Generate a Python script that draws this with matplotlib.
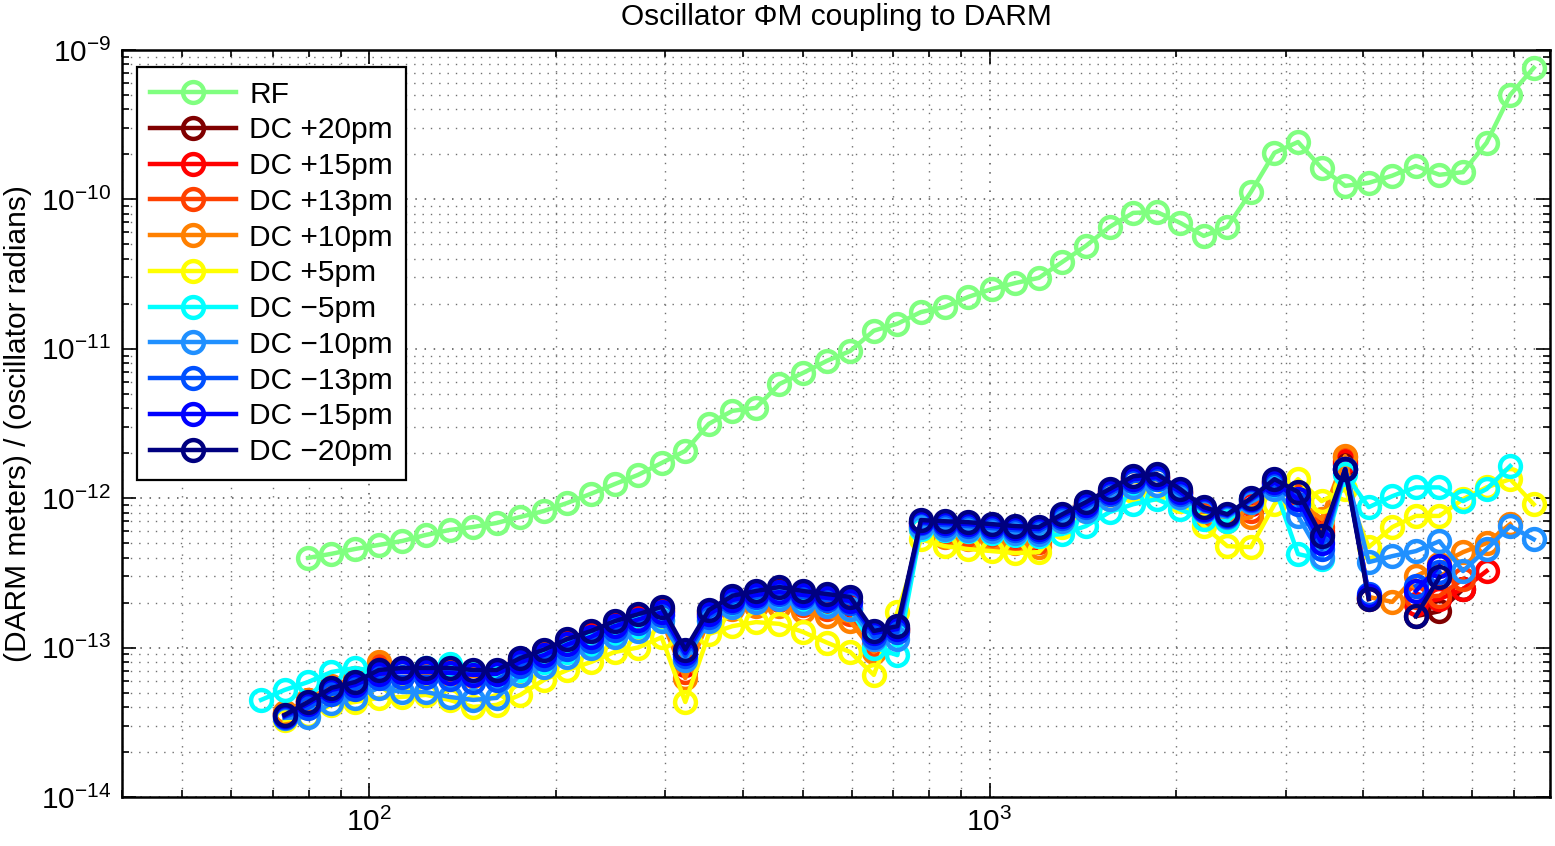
"""
Oscillator phase-modulation coupling to DARM, RF readout vs. DC readout
at several DARM offsets. Saves out.png.
"""

import numpy as np
import matplotlib
matplotlib.use("Agg")
import matplotlib.pyplot as plt
import matplotlib.ticker as ticker

plt.rcParams["font.family"] = ["Liberation Sans", "DejaVu Sans"]
plt.rcParams["mathtext.fontset"] = "custom"
plt.rcParams["mathtext.rm"] = "Liberation Sans"
plt.rcParams["mathtext.it"] = "Liberation Sans:italic"
plt.rcParams["mathtext.bf"] = "Liberation Sans:bold"

nan = np.nan

# ---------------------------------------------------------------------------
# Data  (frequency in Hz, coupling in DARM meters per oscillator radian)
# ---------------------------------------------------------------------------

freq = [67.0, 73.1, 79.8, 87.0, 95.0, 103.7, 113.2, 123.5, 134.8, 147.2,
        160.6, 175.3, 191.3, 208.8, 227.9, 248.7, 271.3, 296.2, 323.3, 352.8,
        385.1, 420.3, 458.6, 500.6, 546.4, 596.3, 650.8, 710.3, 775.1, 846.0,
        923.3, 1007.6, 1099.8, 1200.3, 1310.0, 1429.7, 1560.4, 1703.0, 1858.6, 2028.5,
        2213.7, 2416.1, 2636.9, 2877.8, 3140.8, 3427.9, 3741.1, 4083.0, 4456.0, 4863.0,
        5308.0, 5793.0, 6322.0, 6900.0, 7531.0]

rf = [nan, nan, 3.98e-13, 4.24e-13, 4.57e-13, 4.86e-13, 5.17e-13, 5.67e-13, 6.12e-13, 6.41e-13,
      6.82e-13, 7.48e-13, 8.2e-13, 9.29e-13, 1.07e-12, 1.24e-12, 1.43e-12, 1.72e-12, 2.07e-12, 3.14e-12,
      3.84e-12, 4.02e-12, 5.81e-12, 6.89e-12, 8.28e-12, 9.66e-12, 1.32e-11, 1.47e-11, 1.76e-11, 1.90e-11,
      2.22e-11, 2.51e-11, 2.75e-11, 2.98e-11, 3.81e-11, 4.88e-11, 6.53e-11, 8.11e-11, 8.24e-11, 6.95e-11,
      5.69e-11, 6.53e-11, 1.12e-10, 2.05e-10, 2.42e-10, 1.62e-10, 1.23e-10, 1.29e-10, 1.44e-10, 1.67e-10,
      1.46e-10, 1.52e-10, 2.39e-10, 5.0e-10, 7.59e-10]

dc_p20 = [nan, 3.54e-14, 4.32e-14, 5.29e-14, 5.8e-14, 7.07e-14, 7.18e-14, 7.18e-14, 7.18e-14, 6.97e-14,
          6.97e-14, 8.37e-14, 9.48e-14, 1.11e-13, 1.26e-13, 1.46e-13, 1.62e-13, 1.81e-13, 8.28e-14, 1.75e-13,
          2.15e-13, 2.28e-13, 2.39e-13, 2.25e-13, 2.11e-13, 2.02e-13, 1.22e-13, 1.36e-13, 6.9e-13, 6.6e-13,
          6.4e-13, 6.2e-13, 5.9e-13, 5.65e-13, 7.6e-13, 9.26e-13, 1.11e-12, 1.38e-12, 1.4e-12, 1.11e-12,
          8.4e-13, 7.6e-13, 9.55e-13, 1.3e-12, 1.08e-12, 5.75e-13, 1.69e-12, 2.11e-13, nan, 1.62e-13,
          1.75e-13, 2.46e-13, nan, nan, nan]

dc_p15 = [nan, 3.6e-14, 4.39e-14, 5.37e-14, 5.97e-14, 7.3e-14, 7.18e-14, 7.07e-14, 7.07e-14, 6.86e-14,
          6.86e-14, 8.28e-14, 9.33e-14, 1.08e-13, 1.22e-13, 1.41e-13, 1.57e-13, 1.75e-13, 7.66e-14, 1.7e-13,
          2.05e-13, 2.18e-13, 2.25e-13, 2.11e-13, 1.99e-13, 1.87e-13, 1.14e-13, 1.33e-13, 6.7e-13, 6.2e-13,
          6.0e-13, 5.9e-13, 5.57e-13, 5.3e-13, 7.46e-13, 9.1e-13, 1.1e-12, 1.36e-12, 1.38e-12, 1.1e-12,
          8.2e-13, 7.46e-13, 9.1e-13, 1.28e-12, 1.06e-12, 6.0e-13, 1.77e-12, 2.15e-13, nan, 1.96e-13,
          2.11e-13, 2.46e-13, 3.25e-13, nan, nan]

dc_p13 = [nan, 3.65e-14, 4.46e-14, 5.45e-14, 6.07e-14, 7.66e-14, 7.07e-14, 6.97e-14, 6.86e-14, 6.66e-14,
          6.66e-14, 8.0e-14, 9.06e-14, 1.05e-13, 1.18e-13, 1.36e-13, 1.5e-13, 1.65e-13, 6.86e-14, 1.62e-13,
          1.96e-13, 2.05e-13, 2.08e-13, 1.93e-13, 1.81e-13, 1.67e-13, 1.05e-13, 1.29e-13, 6.5e-13, 5.83e-13,
          5.65e-13, 5.57e-13, 5.24e-13, 5.07e-13, 7.24e-13, 8.98e-13, 1.08e-12, 1.34e-12, 1.36e-12, 1.08e-12,
          7.8e-13, 7.24e-13, 8.2e-13, 1.24e-12, 1.03e-12, 6.4e-13, 1.88e-12, 2.18e-13, nan, 2.18e-13,
          2.22e-13, 2.87e-13, nan, nan, nan]

dc_p10 = [nan, 3.7e-14, 4.46e-14, 5.53e-14, 6.25e-14, 8.0e-14, 6.86e-14, 6.76e-14, 6.66e-14, 6.45e-14,
          6.45e-14, 7.77e-14, 8.78e-14, 1.01e-13, 1.14e-13, 1.31e-13, 1.42e-13, 1.54e-13, 6.25e-14, 1.54e-13,
          1.81e-13, 1.89e-13, 1.89e-13, 1.75e-13, 1.62e-13, 1.5e-13, 9.33e-14, 1.29e-13, 6.2e-13, 5.5e-13,
          5.3e-13, 5.3e-13, 5.0e-13, 4.7e-13, 7.0e-13, 8.7e-13, 1.06e-12, 1.3e-12, 1.34e-12, 1.06e-12,
          7.46e-13, 7.0e-13, 7.46e-13, 1.18e-12, 9.85e-13, 7.24e-13, 1.91e-12, 2.18e-13, 2.02e-13, 3.0e-13,
          3.6e-13, 4.35e-13, 5.0e-13, 6.7e-13, nan]

dc_p5 = [nan, 3.27e-14, 3.48e-14, 4.13e-14, 4.32e-14, 4.6e-14, 4.67e-14, 4.82e-14, 4.46e-14, 4.0e-14,
         4.13e-14, 4.82e-14, 6.07e-14, 7.07e-14, 8.0e-14, 9.33e-14, 1.0e-13, 1.17e-13, 4.32e-14, 1.23e-13,
         1.39e-13, 1.48e-13, 1.44e-13, 1.27e-13, 1.08e-13, 9.33e-14, 6.56e-14, 1.72e-13, 5.3e-13, 4.77e-13,
         4.56e-13, 4.42e-13, 4.29e-13, 4.35e-13, 6.4e-13, 8.2e-13, 9.85e-13, 1.11e-12, 1.15e-12, 9.55e-13,
         6.5e-13, 4.77e-13, 4.7e-13, 9.1e-13, 1.34e-12, 9.55e-13, 1.15e-12, 4.7e-13, 6.4e-13, 7.6e-13,
         7.6e-13, 9.85e-13, 1.18e-12, 1.34e-12, 9.1e-13]

dc_m5 = [4.46e-14, 5.2e-14, 5.88e-14, 6.86e-14, 7.3e-14, 6.86e-14, 6.86e-14, 7.3e-14, 7.77e-14, 6.86e-14,
         6.25e-14, 7.07e-14, 8.0e-14, 9.33e-14, 1.06e-13, 1.25e-13, 1.39e-13, 1.54e-13, 8.5e-14, 1.54e-13,
         1.93e-13, 2.07e-13, 2.18e-13, 2.05e-13, 1.93e-13, 1.81e-13, 1.0e-13, 8.9e-14, 6.2e-13, 6.1e-13,
         6.0e-13, 5.83e-13, 5.65e-13, 5.57e-13, 5.75e-13, 6.5e-13, 8.06e-13, 9.1e-13, 9.85e-13, 8.4e-13,
         7.24e-13, 7.0e-13, 9.85e-13, 1.2e-12, 4.22e-13, 3.9e-13, 1.45e-12, 8.7e-13, 1.03e-12, 1.18e-12,
         1.18e-12, 9.55e-13, 1.15e-12, 1.64e-12, nan]

dc_m10 = [nan, 3.38e-14, 3.43e-14, 4.26e-14, 4.6e-14, 5.37e-14, 5.04e-14, 5.04e-14, 4.67e-14, 4.46e-14,
          4.6e-14, 6.56e-14, 7.41e-14, 8.64e-14, 1.0e-13, 1.17e-13, 1.29e-13, 1.5e-13, 8.28e-14, 1.5e-13,
          1.87e-13, 2.02e-13, 2.11e-13, 2.0e-13, 1.89e-13, 1.81e-13, 1.14e-13, 1.14e-13, 6.4e-13, 6.2e-13,
          6.1e-13, 6.0e-13, 5.83e-13, 5.75e-13, 7.0e-13, 8.2e-13, 9.85e-13, 1.18e-12, 1.22e-12, 1.02e-12,
          8.2e-13, 7.46e-13, 9.4e-13, 1.15e-12, 7.6e-13, 4.03e-13, 1.56e-12, 3.73e-13, 4.09e-13, 4.42e-13,
          5.15e-13, 3.25e-13, 4.56e-13, 6.5e-13, 5.3e-13]

dc_m13 = [nan, 3.43e-14, 3.94e-14, 4.89e-14, 5.29e-14, 6.25e-14, 6.35e-14, 6.35e-14, 6.16e-14, 5.88e-14,
          6.07e-14, 7.53e-14, 8.37e-14, 9.85e-14, 1.11e-13, 1.31e-13, 1.46e-13, 1.65e-13, 8.78e-14, 1.6e-13,
          2.02e-13, 2.18e-13, 2.28e-13, 2.18e-13, 2.08e-13, 1.99e-13, 1.18e-13, 1.27e-13, 6.8e-13, 6.6e-13,
          6.5e-13, 6.3e-13, 6.1e-13, 6.0e-13, 7.35e-13, 8.7e-13, 1.06e-12, 1.3e-12, 1.34e-12, 1.06e-12,
          8.3e-13, 7.6e-13, 9.7e-13, 1.24e-12, 9.1e-13, 4.56e-13, 1.56e-12, 2.28e-13, nan, 2.58e-13,
          3.2e-13, nan, nan, nan, nan]

dc_m15 = [nan, 3.48e-14, 4.19e-14, 5.2e-14, 5.62e-14, 6.66e-14, 6.86e-14, 6.86e-14, 6.76e-14, 6.56e-14,
          6.66e-14, 8.0e-14, 8.9e-14, 1.05e-13, 1.18e-13, 1.39e-13, 1.54e-13, 1.72e-13, 9.17e-14, 1.67e-13,
          2.08e-13, 2.25e-13, 2.35e-13, 2.25e-13, 2.15e-13, 2.05e-13, 1.25e-13, 1.33e-13, 6.9e-13, 6.8e-13,
          6.7e-13, 6.5e-13, 6.3e-13, 6.2e-13, 7.6e-13, 8.98e-13, 1.1e-12, 1.34e-12, 1.38e-12, 1.1e-12,
          8.4e-13, 7.7e-13, 9.85e-13, 1.28e-12, 9.85e-13, 5.0e-13, 1.56e-12, 2.22e-13, nan, 2.39e-13,
          3.51e-13, nan, nan, nan, nan]

dc_m20 = [nan, 3.54e-14, 4.32e-14, 5.37e-14, 5.88e-14, 7.07e-14, 7.3e-14, 7.3e-14, 7.3e-14, 7.07e-14,
          7.07e-14, 8.5e-14, 9.67e-14, 1.14e-13, 1.29e-13, 1.5e-13, 1.67e-13, 1.87e-13, 9.7e-14, 1.78e-13,
          2.22e-13, 2.39e-13, 2.54e-13, 2.39e-13, 2.28e-13, 2.18e-13, 1.29e-13, 1.39e-13, 7.13e-13, 7.0e-13,
          6.9e-13, 6.7e-13, 6.5e-13, 6.4e-13, 7.8e-13, 9.4e-13, 1.15e-12, 1.40e-12, 1.45e-12, 1.15e-12,
          8.7e-13, 7.8e-13, 1.0e-12, 1.34e-12, 1.1e-12, 5.57e-13, 1.56e-12, 2.11e-13, nan, 1.62e-13,
          2.96e-13, nan, nan, nan, nan]

# ---------------------------------------------------------------------------
# Plot
# ---------------------------------------------------------------------------

series = [
    ("RF",        rf,     "#80FF80"),
    ("DC +20pm",  dc_p20, "#800000"),
    ("DC +15pm",  dc_p15, "#FF0000"),
    ("DC +13pm",  dc_p13, "#FF4000"),
    ("DC +10pm",  dc_p10, "#FF8000"),
    ("DC +5pm",   dc_p5,  "#FFFF00"),
    ("DC \u22125pm",  dc_m5,  "#00FFFF"),
    ("DC \u221210pm", dc_m10, "#2090FF"),
    ("DC \u221213pm", dc_m13, "#0050FF"),
    ("DC \u221215pm", dc_m15, "#0000FF"),
    ("DC \u221220pm", dc_m20, "#000080"),
]

FS = 21.5
GRID_DOTS = (0, (1, 5))

fig = plt.figure(figsize=(15.55, 8.46), dpi=100)
ax = fig.add_axes([0.0785, 0.058, 0.9183, 0.883])

for label, vals, color in series:
    ax.plot(freq, vals, color=color, label=label, linewidth=3.2,
            marker="o", markersize=15, markerfacecolor="none",
            markeredgewidth=3.2, markeredgecolor=color)

ax.set_xscale("log")
ax.set_yscale("log")
ax.set_xlim(40, 8000)
ax.set_ylim(1e-14, 1e-9)

ax.xaxis.set_major_locator(ticker.FixedLocator([1e2, 1e3]))
ax.xaxis.set_minor_locator(ticker.LogLocator(base=10, subs=np.arange(2, 10), numticks=20))
ax.yaxis.set_major_locator(ticker.FixedLocator([1e-14, 1e-13, 1e-12, 1e-11, 1e-10, 1e-9]))
ax.yaxis.set_minor_locator(ticker.LogLocator(base=10, subs=np.arange(2, 10), numticks=20))
ax.xaxis.set_major_formatter(ticker.LogFormatterMathtext())
ax.yaxis.set_major_formatter(ticker.LogFormatterMathtext())
ax.xaxis.set_minor_formatter(ticker.NullFormatter())
ax.yaxis.set_minor_formatter(ticker.NullFormatter())

ax.tick_params(which="both", direction="in", top=True, right=True,
               labelsize=FS, width=1.2)
ax.tick_params(which="major", length=10)
ax.tick_params(which="minor", length=5)
ax.tick_params(axis="x", pad=8)
ax.tick_params(axis="y", pad=8)
for sp in ax.spines.values():
    sp.set_linewidth(1.8)

ax.grid(True, which="major", linestyle=GRID_DOTS, color="#505050", linewidth=1.1)
ax.grid(True, which="minor", linestyle=GRID_DOTS, color="#707070", linewidth=1.0)
ax.set_axisbelow(True)

ax.set_title("Oscillator \u03a6M coupling to DARM", fontsize=FS, pad=18)
ax.set_ylabel("(DARM meters) / (oscillator radians)", fontsize=FS, labelpad=6)

leg = ax.legend(loc="upper left", bbox_to_anchor=(0.0105, 0.977), fontsize=FS,
                fancybox=False, framealpha=1, edgecolor="black",
                handlelength=2.85, labelspacing=0.26, borderpad=0.45,
                handletextpad=0.45, borderaxespad=0)
leg.get_frame().set_linewidth(1.6)

fig.savefig("out.png", dpi=100)
